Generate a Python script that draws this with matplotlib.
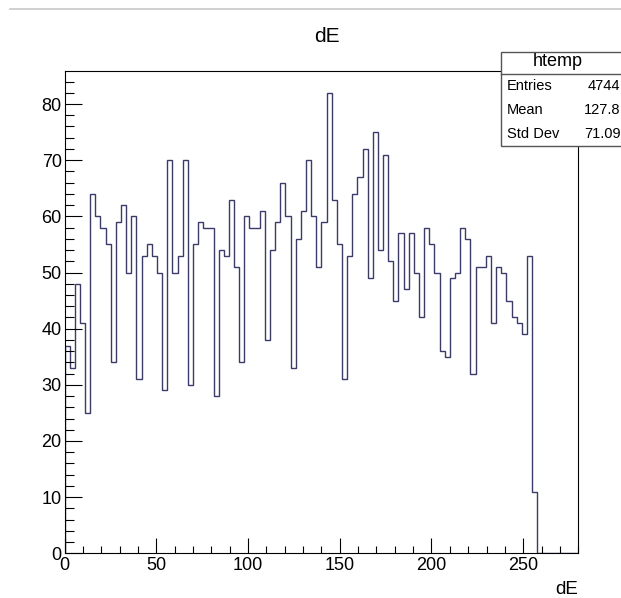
import numpy as np
import matplotlib.pyplot as plt
from matplotlib.patches import Rectangle
from matplotlib.lines import Line2D
from matplotlib.ticker import MultipleLocator

plt.rcParams['font.family'] = ['Liberation Sans', 'DejaVu Sans']

# histogram "htemp": 100 bins from 0 to 280
x_min, x_max, n_bins = 0, 280, 100
counts = [37, 33, 48, 41, 25, 64, 60, 58, 55, 34,
          59, 62, 50, 60, 31, 53, 55, 53, 50, 29,
          70, 50, 53, 70, 30, 55, 59, 58, 58, 28,
          54, 53, 63, 51, 34, 60, 58, 58, 61, 38,
          54, 59, 66, 60, 33, 56, 61, 70, 60, 51,
          59, 82, 63, 55, 31, 53, 64, 67, 72, 49,
          75, 54, 71, 52, 45, 57, 47, 57, 50, 42,
          58, 55, 50, 36, 35, 49, 50, 58, 56, 32,
          51, 51, 53, 41, 51, 50, 45, 42, 41, 39,
          53, 11, 0, 0, 0, 0, 0, 0, 0, 0]
stat_names = ['Entries', 'Mean', 'Std Dev']
stat_values = ['4744', '127.8', '71.09']

W, H = 621, 598
fig = plt.figure(figsize=(W / 100, H / 100), dpi=100)
fig.patch.set_facecolor('white')

# axes frame in pixel units
left, right, top, bottom = 64.5, 578.3, 70.7, 553.3
ax = fig.add_axes([left / W, 1 - bottom / H, (right - left) / W, (bottom - top) / H])

edges = np.linspace(x_min, x_max, n_bins + 1)
ax.stairs(counts, edges, baseline=0, color='#3a3a6c', lw=1.0)

ax.set_xlim(x_min, x_max)
ax.set_ylim(0, max(counts) * 1.048)

ax.xaxis.set_major_locator(MultipleLocator(50))
ax.xaxis.set_minor_locator(MultipleLocator(10))
ax.yaxis.set_major_locator(MultipleLocator(10))
ax.yaxis.set_minor_locator(MultipleLocator(2))
ax.tick_params(axis='both', which='both', direction='in', top=False, right=False,
               width=0.8, color='black', labelsize=13)
ax.tick_params(axis='x', which='major', length=10.5, pad=3)
ax.tick_params(axis='x', which='minor', length=5)
ax.tick_params(axis='y', which='major', length=12, pad=2)
ax.tick_params(axis='y', which='minor', length=6.5)
for s in ax.spines.values():
    s.set_linewidth(0.8)

# title and axis label
fig.text(327 / W, 1 - 36 / H, 'dE', ha='center', va='center', fontsize=15)
fig.text(578 / W, 1 - 594 / H, 'dE', ha='right', va='baseline', fontsize=13.5)

# stats box (runs off the right edge like in the canvas)
bx0, by0, by1, bsep = 501, 52, 146, 73.5
fig.add_artist(Rectangle((bx0 / W, 1 - by1 / H), (W + 20 - bx0) / W, (by1 - by0) / H,
                         transform=fig.transFigure, facecolor='white',
                         edgecolor='#555555', lw=1.0, zorder=5))
fig.add_artist(Line2D([bx0 / W, 1.0], [1 - bsep / H, 1 - bsep / H],
                      transform=fig.transFigure, color='#555555', lw=1.0, zorder=6))
fig.text(558 / W, 1 - 62 / H, 'htemp', ha='center', va='center', fontsize=13, zorder=7)
row_y = [86, 110, 134]
for name, val, yy in zip(stat_names, stat_values, row_y):
    fig.text(507 / W, 1 - yy / H, name, ha='left', va='center', fontsize=10.5, zorder=7)
    fig.text(620.5 / W, 1 - yy / H, val, ha='right', va='center', fontsize=10.5, zorder=7)

# window strip at the very top
fig.add_artist(Line2D([10 / W, 1.0], [1 - 9 / H, 1 - 9 / H], transform=fig.transFigure,
                      color='#c8c8c8', lw=1.2))

fig.savefig('out.png', dpi=100)
